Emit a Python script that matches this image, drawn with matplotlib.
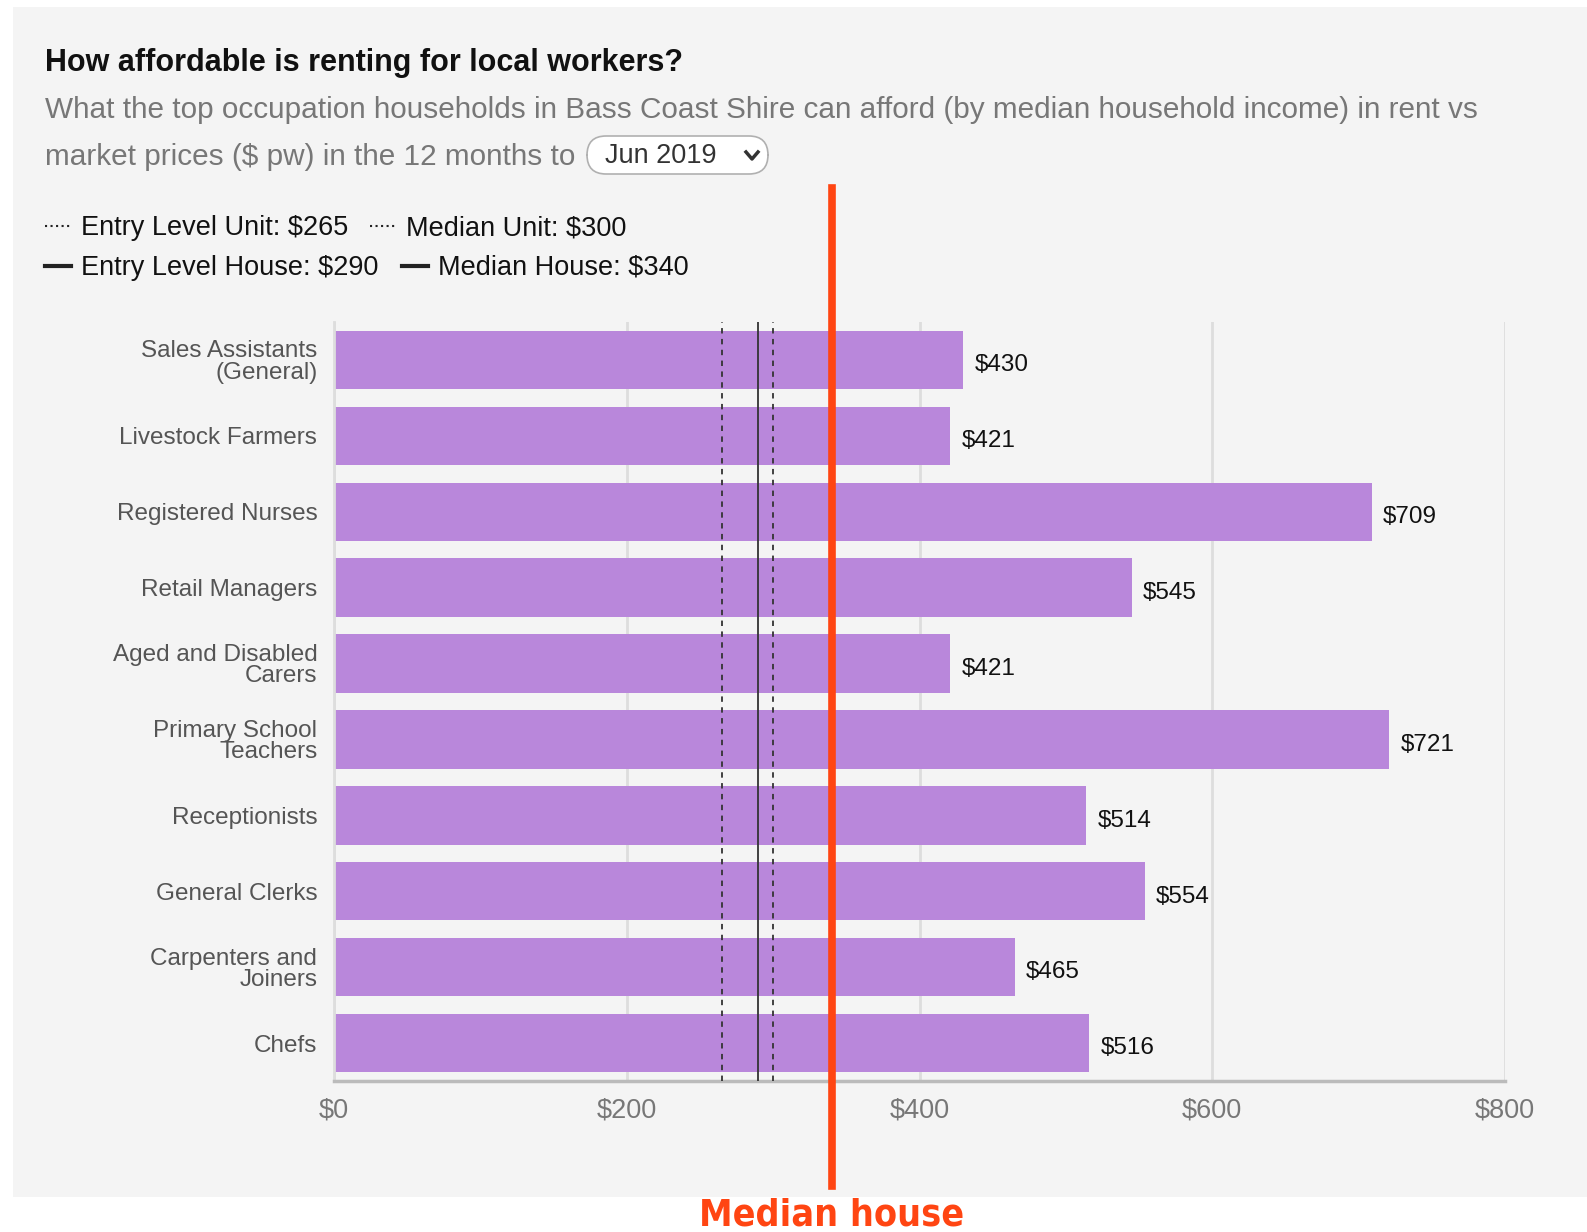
import matplotlib
matplotlib.use("Agg")
import matplotlib.pyplot as plt
from matplotlib.patches import Rectangle, FancyBboxPatch
from matplotlib.lines import Line2D
from matplotlib.transforms import blended_transform_factory

# Ocupaciones y renta que pueden pagar ($ por semana)
ocupaciones = [
    "Sales Assistants\n(General)",
    "Livestock Farmers",
    "Registered Nurses",
    "Retail Managers",
    "Aged and Disabled\nCarers",
    "Primary School\nTeachers",
    "Receptionists",
    "General Clerks",
    "Carpenters and\nJoiners",
    "Chefs",
]
renta_asequible = [430, 421, 709, 545, 421, 721, 514, 554, 465, 516]

# Precios de mercado (líneas de referencia)
referencias = ["Entry Level Unit", "Median Unit", "Entry Level House", "Median House"]
precios_ref = [265, 300, 290, 340]
estilos_ref = [":", ":", "-", "-"]

ticks_x = [0, 200, 400, 600, 800]
periodo = "Jun 2019"

FUENTE = ["Liberation Sans", "DejaVu Sans"]
plt.rcParams["font.family"] = FUENTE

ANCHO, ALTO = 1587, 1232
fig = plt.figure(figsize=(ANCHO / 100, ALTO / 100), dpi=100, facecolor="white")


def fx(px):
    return px / ANCHO


def fy(py):
    return 1 - py / ALTO


# Panel gris de fondo
fig.patches.append(Rectangle((fx(13), fy(1197)), 1 - fx(13), fy(7) - fy(1197),
                             transform=fig.transFigure, facecolor="#f4f4f4",
                             edgecolor="none", zorder=-10))

# Título y subtítulo
fig.text(fx(45), fy(63), "How affordable is renting for local workers?",
         fontsize=22, fontweight="bold", color="#111111", va="center")
fig.text(fx(45), fy(110),
         "What the top occupation households in Bass Coast Shire can afford "
         "(by median household income) in rent vs",
         fontsize=21.4, color="#777777", va="center")
fig.text(fx(45), fy(157), "market prices ($ pw) in the 12 months to",
         fontsize=21.4, color="#777777", va="center")

# Selector de periodo
fig.patches.append(FancyBboxPatch((fx(587), fy(174)), fx(181), fy(136) - fy(174),
                                  boxstyle="round,pad=0,rounding_size=0.012",
                                  transform=fig.transFigure, facecolor="white",
                                  edgecolor="#b0b0b0", linewidth=1.2, mutation_aspect=1.3))
fig.text(fx(605), fy(156), periodo, fontsize=19.5, color="#333333", va="center")
fig.lines.append(Line2D([fx(746), fx(752), fx(758)], [fy(152), fy(159), fy(152)],
                        transform=fig.transFigure, color="#333333", linewidth=2.5))

# Leyenda de líneas de referencia
pos_leyenda = [(45, 228), (370, 228), (45, 268), (402, 268)]
for nombre, precio, estilo, (x0, y0) in zip(referencias, precios_ref, estilos_ref, pos_leyenda):
    lw = 1.5 if estilo == ":" else 3
    fig.lines.append(Line2D([fx(x0), fx(x0 + 26)], [fy(y0 - 2), fy(y0 - 2)],
                            transform=fig.transFigure, color="#222222",
                            linestyle=estilo, linewidth=lw))
    fig.text(fx(x0 + 36), fy(y0), f"{nombre}: ${precio}",
             fontsize=19.5, color="#111111", va="center")

# Gráfico de barras horizontales
ax = fig.add_axes([fx(334), fy(1081), fx(1505) - fx(334), fy(322) - fy(1081)])
ax.set_facecolor("none")
y = list(range(len(ocupaciones)))
barras = ax.barh(y, renta_asequible, height=0.77, color="#b987db", zorder=2)
ax.set_ylim(len(ocupaciones) - 0.5, -0.5)
ax.set_xlim(0, 800)

for v, yi in zip(renta_asequible, y):
    ax.annotate(f"${v}", (v, yi), xytext=(8, -2), textcoords="offset points",
                va="center_baseline", ha="left", fontsize=17.5, color="#111111")

for precio, estilo in zip(precios_ref, estilos_ref):
    ax.axvline(precio, color="#333333", linestyle=(0, (3, 3)) if estilo == ":" else "-",
               linewidth=1.3, zorder=3)

ax.set_xticks(ticks_x)
ax.set_xticklabels([f"${t}" for t in ticks_x], fontsize=19.5, color="#777777")
ax.set_yticks(y)
ax.set_yticklabels(ocupaciones, fontsize=17.5, color="#555555", linespacing=0.95)
ax.tick_params(axis="both", length=0)
ax.tick_params(axis="x", pad=12)
ax.tick_params(axis="y", pad=12)
ax.grid(axis="x", color="#dddddd", linewidth=2, zorder=0)
ax.set_axisbelow(True)
for lado in ["top", "right"]:
    ax.spines[lado].set_visible(False)
ax.spines["left"].set_color("#dddddd")
ax.spines["left"].set_linewidth(2)
ax.spines["bottom"].set_color("#bbbbbb")
ax.spines["bottom"].set_linewidth(2.5)

# Marca destacada de la casa mediana
mediana_casa = precios_ref[3]
trans = blended_transform_factory(ax.transData, fig.transFigure)
ax.add_line(Line2D([mediana_casa, mediana_casa], [fy(1186), fy(188)], transform=trans,
                   color="#ff4512", linewidth=5.5, clip_on=False, zorder=5))
ax.text(mediana_casa, fy(1215), "Median house", transform=trans, ha="center", va="center",
        family="DejaVu Sans", stretch="condensed", fontsize=27, fontweight="bold",
        color="#ff4512", clip_on=False)

fig.savefig("out.png", dpi=100, facecolor="white")
